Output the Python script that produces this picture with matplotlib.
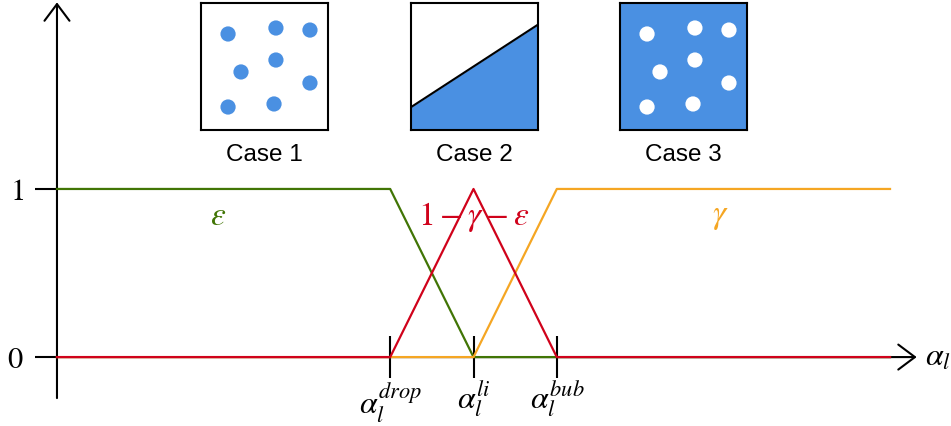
import matplotlib
matplotlib.use('Agg')
import matplotlib.pyplot as plt

# piecewise-linear indicator functions vs liquid fraction
alpha_x = [0, 4, 5, 6, 10]
eps_vals = [1, 1, 0, 0, 0]
gamma_vals = [0, 0, 0, 1, 1]
rest_vals = [0, 0, 1, 0, 0]

tick_pos = [4, 5, 6]
tick_labels = [r'$\alpha_l^{drop}$', r'$\alpha_l^{li}$', r'$\alpha_l^{bub}$']

# dots in the case sketches (box coords)
dot_x = [0.213, 0.59, 0.858, 0.315, 0.59, 0.858, 0.213, 0.575]
dot_y = [0.756, 0.803, 0.787, 0.457, 0.551, 0.37, 0.181, 0.205]
interface_y = [0.18, 0.83]

green = '#417505'
red = '#d0021b'
orange = '#f5a623'
blue = '#4a90e2'

plt.rcParams['mathtext.fontset'] = 'stix'
plt.rcParams['font.family'] = 'STIXGeneral'

fig = plt.figure(figsize=(9.51, 4.27), dpi=100)
ax = fig.add_axes([0, 0, 1, 1])
ax.set_xlim(-0.684, 10.732)
ax.set_ylim(-0.41, 2.13)

ax.plot(alpha_x, eps_vals, color=green, lw=1.6, zorder=3)
ax.plot(alpha_x, gamma_vals, color=orange, lw=1.6, zorder=4)
ax.plot(alpha_x, rest_vals, color=red, lw=1.6, zorder=5)

# axes with arrow heads
arrow = dict(arrowstyle='->,head_length=0.6,head_width=0.45', lw=1.5,
             color='black', shrinkA=0, shrinkB=0, mutation_scale=20)
ax.annotate('', xy=(10.32, 0), xytext=(0, 0), arrowprops=arrow, zorder=2)
ax.annotate('', xy=(0, 2.11), xytext=(0, -0.244), arrowprops=arrow, zorder=2)

for s in ['top', 'right']:
    ax.spines[s].set_visible(False)
for s in ['left', 'bottom']:
    ax.spines[s].set_position(('data', 0))
    ax.spines[s].set_visible(False)

ax.set_xticks(tick_pos)
ax.set_xticklabels(tick_labels, fontsize=23)
ax.set_yticks([0, 1])
ax.set_yticklabels([r'$0$', r'$1$'], fontsize=22)
ax.tick_params(axis='x', direction='inout', length=30, width=1.5, pad=1)
ax.tick_params(axis='y', direction='out', length=16, width=1.5, pad=8)

ax.text(10.42, 0, r'$\alpha_l$', fontsize=23, ha='left', va='center')

ax.text(1.93, 0.84, r'$\varepsilon$', color=green, fontsize=24, ha='center', va='center')
ax.text(5.0, 0.84, r'$1-\gamma-\varepsilon$', color=red, fontsize=24, ha='center', va='center')
ax.text(7.96, 0.84, r'$\gamma$', color=orange, fontsize=24, ha='center', va='center')

# case sketches
W, H = 951, 427
box_left = [201, 411, 620]
box_top, box_size = 4, 127
names = ['Case 1', 'Case 2', 'Case 3']
for i, (left, name) in enumerate(zip(box_left, names)):
    iax = fig.add_axes([left / W, (H - box_top - box_size) / H, box_size / W, box_size / H])
    iax.set_xlim(0, 1)
    iax.set_ylim(0, 1)
    iax.set_xticks([])
    iax.set_yticks([])
    for sp in iax.spines.values():
        sp.set_linewidth(1.5)
    if i == 0:
        iax.scatter(dot_x, dot_y, s=120, color=blue, edgecolors='none')
    elif i == 1:
        iax.fill_between([0, 1], [0, 0], interface_y, color=blue, lw=0)
        iax.plot([0, 1], interface_y, color='black', lw=1.5)
    else:
        iax.set_facecolor(blue)
        iax.scatter(dot_x, dot_y, s=120, color='white', edgecolors='none')
    iax.text(0.5, -0.19, name, transform=iax.transAxes, ha='center', va='center',
             fontsize=17.5, family='Liberation Sans')

fig.savefig('out.png', dpi=100)
